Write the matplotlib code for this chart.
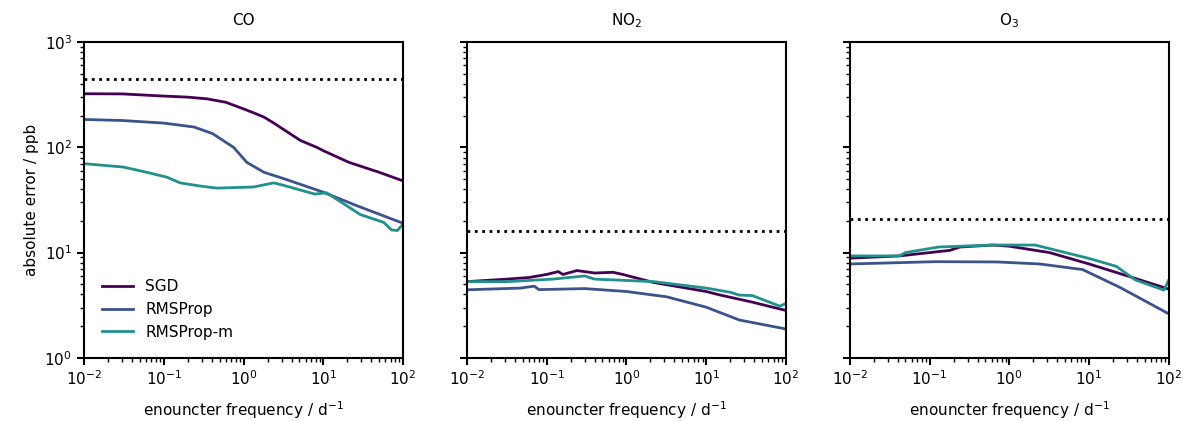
import numpy as np
import matplotlib.pyplot as plt

# values (x: encounter frequency in 1/d, y: ppb)
co_sgd_x = [0.01, 0.03, 0.1, 0.2, 0.35, 0.6, 1.0, 1.4, 1.8, 2.4, 3.3, 5.2, 8.3, 10, 21, 50, 100]
co_sgd_y = [323, 322, 307, 300, 289, 268, 232, 210, 194, 170, 145, 116, 100, 93, 72, 58, 48]
co_rms_x = [0.01, 0.03, 0.1, 0.24, 0.41, 0.75, 1.1, 1.8, 3.3, 10, 26, 60, 100]
co_rms_y = [184, 180, 170, 156, 135, 100, 72, 58, 50, 37.5, 28, 22, 19]
co_rmsm_x = [0.01, 0.031, 0.061, 0.11, 0.16, 0.28, 0.46, 1.33, 2.4, 3.2, 7.8, 11, 21, 29, 57, 72, 85, 100]
co_rmsm_y = [70, 65, 58, 52, 46, 43, 41, 42, 46, 43.5, 36, 37, 27, 23, 19.4, 16.4, 16.2, 18.7]
co_ref = 448

no2_sgd_x = [0.01, 0.032, 0.06, 0.1, 0.14, 0.16, 0.24, 0.4, 0.68, 0.9, 2.2, 10, 14, 38, 100]
no2_sgd_y = [5.3, 5.6, 5.8, 6.2, 6.6, 6.2, 6.75, 6.4, 6.5, 6.2, 5.2, 4.27, 4.0, 3.38, 2.82]
no2_rms_x = [0.01, 0.047, 0.07, 0.08, 0.3, 1.0, 3.2, 10, 26, 100]
no2_rms_y = [4.43, 4.6, 4.8, 4.45, 4.55, 4.27, 3.8, 3.03, 2.29, 1.88]
no2_rmsm_x = [0.01, 0.032, 0.12, 0.3, 0.4, 2.2, 10, 20, 26, 38, 84, 100]
no2_rmsm_y = [5.3, 5.3, 5.6, 6.0, 5.6, 5.3, 4.6, 4.2, 3.95, 3.9, 3.1, 3.3]
no2_ref = 16.2

o3_sgd_x = [0.01, 0.042, 0.1, 0.18, 0.24, 0.62, 1.0, 3.2, 10, 35, 100]
o3_sgd_y = [8.85, 9.3, 10.0, 10.5, 11.3, 11.8, 11.5, 10.0, 7.8, 5.8, 4.5]
o3_rms_x = [0.01, 0.12, 0.7, 2.4, 8.3, 24, 100]
o3_rms_y = [7.8, 8.2, 8.15, 7.8, 6.9, 4.7, 2.62]
o3_rmsm_x = [0.01, 0.042, 0.05, 0.13, 0.62, 2.1, 10, 22, 38, 87, 100]
o3_rmsm_y = [9.3, 9.3, 10.0, 11.3, 11.8, 11.8, 8.8, 7.4, 5.5, 4.4, 5.5]
o3_ref = 20.9

titles = ['CO', 'NO$_2$', 'O$_3$']
labels = ['SGD', 'RMSProp', 'RMSProp-m']
colors = ['#440154', '#3b528b', '#21918c']

panels = [
    [(co_sgd_x, co_sgd_y), (co_rms_x, co_rms_y), (co_rmsm_x, co_rmsm_y), co_ref],
    [(no2_sgd_x, no2_sgd_y), (no2_rms_x, no2_rms_y), (no2_rmsm_x, no2_rmsm_y), no2_ref],
    [(o3_sgd_x, o3_sgd_y), (o3_rms_x, o3_rms_y), (o3_rmsm_x, o3_rmsm_y), o3_ref],
]

fs = 11
fig, axes = plt.subplots(1, 3, figsize=(11.83, 4.21), dpi=100, sharey=True)
fig.subplots_adjust(left=0.071, right=0.988, bottom=0.15, top=0.9, wspace=0.2)

for ax, title, p in zip(axes, titles, panels):
    for (x, y), lab, c in zip(p[:3], labels, colors):
        ax.plot(x, y, color=c, lw=2, label=lab)
    ax.axhline(p[3], color='k', ls=':', lw=2)
    ax.set_xscale('log')
    ax.set_yscale('log')
    ax.set_xlim(1e-2, 1e2)
    ax.set_ylim(1, 1e3)
    ax.set_title(title, fontsize=fs, pad=12)
    ax.set_xlabel('enouncter frequency / d$^{-1}$', fontsize=fs, labelpad=8)
    for s in ax.spines.values():
        s.set_linewidth(1.5)
    ax.tick_params(which='major', width=1.5, length=5, labelsize=fs)
    ax.tick_params(which='minor', width=1.0, length=3)

axes[0].set_ylabel('absolute error / ppb', fontsize=fs)
axes[0].legend(loc='lower left', frameon=False, fontsize=fs, borderaxespad=0.8)

plt.savefig('out.png')
